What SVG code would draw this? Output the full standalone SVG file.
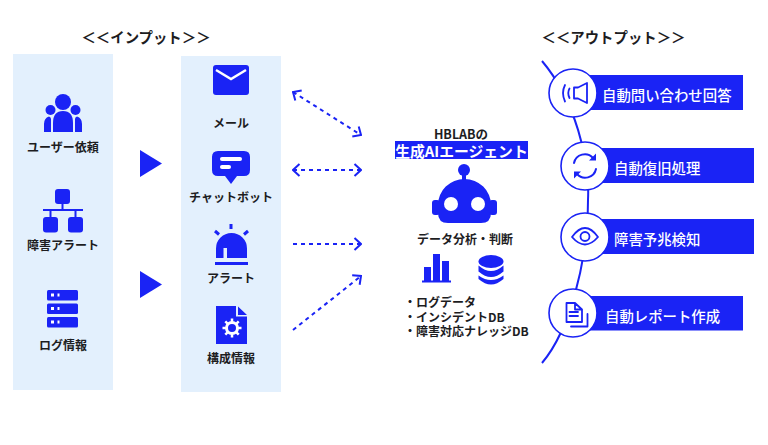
<svg xmlns="http://www.w3.org/2000/svg" width="768" height="445" viewBox="0 0 768 445">
<style>
text{font-family:"Noto Sans CJK JP","Noto Sans",sans-serif;font-weight:700;fill:#1d1d1f;text-anchor:middle;dominant-baseline:central}
.t{font-size:14.4px;font-weight:700}
.l{font-size:12px}
.w{fill:#fff;font-size:14.4px;font-weight:500;text-anchor:start}
.b{fill:#1a23f5}
.p{fill:#e3f0fd}
.c{fill:none;stroke:#1a23f5;stroke-width:2;stroke-dasharray:4 4;marker-start:url(#h);marker-end:url(#h)}
.c2{fill:none;stroke:#1a23f5;stroke-width:2;stroke-dasharray:4 4;marker-end:url(#h)}
.o{fill:#fff;stroke:#1a23f5;stroke-width:1.6}
.i{fill:none;stroke:#1a23f5;stroke-width:2;stroke-linecap:round;stroke-linejoin:round}
</style>
<defs><marker id="h" viewBox="-9 -7 10 14" refX="0" refY="0" markerWidth="10" markerHeight="14" markerUnits="userSpaceOnUse" orient="auto-start-reverse"><path d="M-6.500 -6 L0 0 L-6.500 6" fill="none" stroke="#1a23f5" stroke-width="2"/></marker></defs>
<rect class="p" x="13" y="54" width="100" height="336"/>
<rect class="p" x="181" y="56" width="100" height="336"/>
<text class="t" x="146" y="36">＜＜インプット＞＞</text>
<text class="t" x="613.500" y="36">＜＜アウトプット＞＞</text>
<g id="arrows-input"><polygon class="b" points="140,150 162,163.500 140,177"/><polygon class="b" points="140,271 162,284.500 140,298"/></g>
<g id="connectors">
<path class="c" d="M293 92L361 135"/>
<path class="c" d="M293 170H361"/>
<path class="c2" d="M293 244H361"/>
<path class="c2" d="M293 330L361 276"/>
<path d="M542 61C575 100 590 160 588 200C588 260 570 330 542 363" fill="none" stroke="#1a23f5" stroke-width="2"/>
</g>
<g id="user-request">
<circle class="b" cx="63" cy="102" r="8"/><circle class="b" cx="50.500" cy="110" r="5"/><circle class="b" cx="75.500" cy="110" r="5"/>
<path class="b" d="M53 132V123Q53 111 63 111Q73 111 73 123V132Z"/>
<path class="b" d="M44 132V124Q44 118 49 116.500Q51 117 51 119V132ZM82 132V124Q82 118 77 116.500Q75 117 75 119V132Z"/>
<text class="l" x="63" y="146">ユーザー依頼</text>
</g>
<g id="fault-alert">
<rect class="b" x="55" y="189" width="15" height="15" rx="3"/>
<path d="M62.500 204V210M43 210H83M50.500 210V217M75.500 210V217" fill="none" stroke="#1a23f5" stroke-width="2"/>
<rect class="b" x="43" y="217" width="15" height="15.500" rx="3"/><rect class="b" x="68" y="217" width="15" height="15.500" rx="3"/>
<text class="l" x="63" y="244.500">障害アラート</text>
</g>
<g id="log-info">
<rect class="b" x="47" y="290" width="31" height="10.500" rx="1.500"/><rect class="b" x="47" y="303.500" width="31" height="10.500" rx="1.500"/><rect class="b" x="47" y="317" width="31" height="10.500" rx="1.500"/>
<path d="M51 293.500h3v3h-3zM57.500 293.500h2v3h-2zM51 307h3v3h-3zM57.500 307h2v3h-2zM51 320.500h3v3h-3zM57.500 320.500h2v3h-2z" fill="#fff"/>
<text class="l" x="63" y="344">ログ情報</text>
</g>
<g id="mail">
<rect class="b" x="213" y="65" width="36" height="30" rx="3"/>
<path d="M216 70L231 79L246 70" fill="none" stroke="#fff" stroke-width="2.500"/>
<text class="l" x="231" y="122.500">メール</text>
</g>
<g id="chatbot">
<path class="b" d="M218 151H244Q250 151 250 157V170Q250 176 244 176H237L231 184L225 176H218Q212 176 212 170V157Q212 151 218 151Z"/>
<rect x="220" y="157" width="22" height="4" rx="2" fill="#fff"/><rect x="220" y="165" width="11" height="4" rx="2" fill="#fff"/>
<text class="l" x="231" y="196">チャットボット</text>
</g>
<g id="alert">
<path class="b" d="M216 258V248.500A15.500 15.500 0 0 1 247 248.500V258H227V248H223.500V258Z"/>
<rect class="b" x="215" y="262" width="33" height="3"/>
<path d="M231 224V229M215 231L219 234.500M248 231L244 234.500" fill="none" stroke="#1a23f5" stroke-width="3"/>
<text class="l" x="231" y="277">アラート</text>
</g>
<g id="config">
<path class="b" d="M216 306H236V316.500H247V344H216ZM238 306.500L247 315H238Z"/>
<circle cx="232" cy="328" r="5.500" fill="none" stroke="#fff" stroke-width="3"/>
<path d="M232 318.500V322M232 334V337.500M222.500 328H226M238 328H241.500M225.300 321.300L227.800 323.800M236.200 332.200L238.700 334.700M225.300 334.700L227.800 332.200M236.200 323.800L238.700 321.300" stroke="#fff" stroke-width="2.500" fill="none"/>
<text class="l" x="231" y="357">構成情報</text>
</g>
<g id="agent">
<rect class="b" x="395" y="141" width="133" height="18"/>
<text style="font-weight:700"><tspan x="461" y="133" style="font-size:12.500px">HBLABの</tspan><tspan x="461.500" y="149.500" style="font-size:14.800px;fill:#fff">生成AIエージェント</tspan></text>
<circle class="b" cx="464" cy="170" r="6"/><rect class="b" x="462" y="174" width="4" height="7"/>
<path class="b" d="M438 213V205A26.500 26 0 0 1 491 205V213Q491 223 481 223H448Q438 223 438 213Z"/>
<rect class="b" x="432" y="200" width="8" height="15" rx="3"/><rect class="b" x="489" y="200" width="8" height="15" rx="3"/>
<circle cx="451" cy="204" r="7" fill="#fff"/><circle cx="478" cy="204" r="7" fill="#fff"/>
<text x="465" y="238.500" style="font-size:12px">データ分析・判断</text>
<path class="b" d="M424 267H431V282H424ZM433 254H440V282H433ZM442 261H449V282H442Z"/><rect class="b" x="422" y="280.500" width="29" height="2"/>
<ellipse class="b" cx="491" cy="261.500" rx="12.500" ry="6.500"/>
<path class="b" d="M478.500 265.500Q485 271 491 271Q497 271 503.500 265.500V271.500Q497 277 491 277Q485 277 478.500 271.500Z"/>
<path class="b" d="M478.500 275.500Q485 280 491 280Q497 280 503.500 275.500V279Q497 284.500 491 284.500Q485 284.500 478.500 279Z"/>
<text style="font-size:12px;text-anchor:start"><tspan x="404" y="301">・ログデータ</tspan><tspan x="404" y="315.500">・インシデントDB</tspan><tspan x="404" y="330">・障害対応ナレッジDB</tspan></text>
</g>
<g id="output-1">
<rect class="b" x="585" y="75" width="158" height="35"/>
<circle class="o" cx="573" cy="93" r="24"/>
<path class="i" d="M574 87.500H578L587 83V103L578 98.500H574ZM569.500 88.500Q567 93 569.500 98M565 85Q561 93 565 101.500" style="stroke-width:1.800"/>
<text class="w" x="602" y="94">自動問い合わせ回答</text>
</g>
<g id="output-2">
<rect class="b" x="597" y="148" width="157" height="35"/>
<circle class="o" cx="585" cy="166" r="24"/>
<path class="i" d="M574 163A11 11 0 0 1 593 158M596 169A11 11 0 0 1 577 174" style="stroke-width:2"/>
<path class="b" d="M596 153.500V160.500H589ZM574 178.500V171.500H581Z"/>
<text class="w" x="614" y="167">自動復旧処理</text>
</g>
<g id="output-3">
<rect class="b" x="597" y="219" width="157" height="35"/>
<circle class="o" cx="585" cy="237" r="24"/>
<path class="i" d="M572 237Q585 219 598 237Q585 252 572 237Z" style="stroke-width:1.800"/>
<circle cx="585" cy="236.500" r="4.500" class="i" style="stroke-width:1.800"/>
<text class="w" x="614" y="238">障害予兆検知</text>
</g>
<g id="output-4">
<rect class="b" x="585" y="296" width="158" height="34.500"/>
<circle class="o" cx="573" cy="313" r="24"/>
<path class="i" d="M566.500 303H575L582 309.500V322H566.500ZM575 303V309.500H582M569.500 312H578M569.500 316H578M587.500 314V326.500H571" style="stroke-width:1.800"/>
<text class="w" x="605" y="315">自動レポート作成</text>
</g>
</svg>
